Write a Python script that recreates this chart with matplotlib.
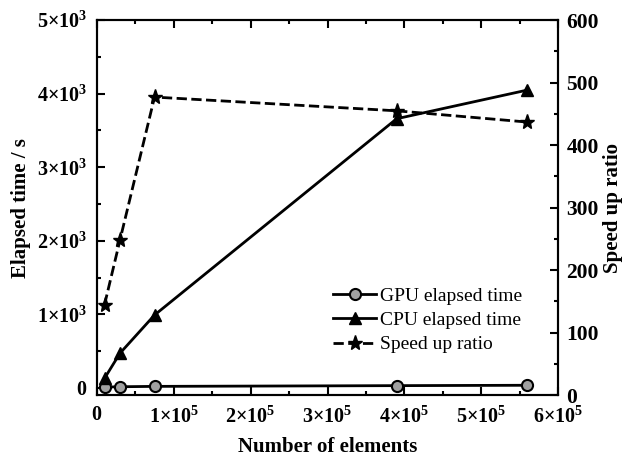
import matplotlib
matplotlib.use("Agg")
import matplotlib.pyplot as plt
import matplotlib.ticker as ticker

# Daten
n_elemente = [1.0e4, 3.0e4, 7.5e4, 3.9e5, 5.6e5]
gpu_zeit   = [10, 15, 20, 30, 35]
cpu_zeit   = [130, 470, 990, 3660, 4050]
speedup    = [145, 248, 477, 455, 437]

plt.rcParams["font.family"] = ["Liberation Serif", "DejaVu Serif"]
plt.rcParams["mathtext.fontset"] = "custom"
plt.rcParams["mathtext.rm"] = "Liberation Serif"
plt.rcParams["mathtext.bf"] = "Liberation Serif:bold"

def sci_fmt(wert, pos):
    if wert == 0:
        return r"$\mathbf{0}$"
    exp = len(str(int(wert))) - 1
    mant = int(round(wert / 10**exp))
    return r"$\mathbf{%d{\times}10^{%d}}$" % (mant, exp)

fig = plt.figure(figsize=(6.25, 4.59), dpi=100)
ax = fig.add_axes([0.155, 0.139, 0.738, 0.817])
ax2 = ax.twinx()

l1, = ax.plot(n_elemente, gpu_zeit, color="black", linewidth=2, marker="o",
              markersize=8, markerfacecolor="#a0a0a0", markeredgecolor="black",
              markeredgewidth=1.5, label="GPU elapsed time")
l2, = ax.plot(n_elemente, cpu_zeit, color="black", linewidth=2, marker="^",
              markersize=9, label="CPU elapsed time")
l3, = ax2.plot(n_elemente, speedup, color="black", linewidth=2, linestyle="--",
               marker="*", markersize=11, label="Speed up ratio")

ax.set_xlim(0, 6e5)
ax.set_ylim(-100, 5000)
ax2.set_ylim(0, 600)

ax.xaxis.set_major_locator(ticker.MultipleLocator(1e5))
ax.xaxis.set_minor_locator(ticker.MultipleLocator(5e4))
ax.yaxis.set_major_locator(ticker.MultipleLocator(1000))
ax.yaxis.set_minor_locator(ticker.MultipleLocator(500))
ax2.yaxis.set_major_locator(ticker.MultipleLocator(100))
ax2.yaxis.set_minor_locator(ticker.MultipleLocator(50))
ax.xaxis.set_major_formatter(ticker.FuncFormatter(sci_fmt))
ax.yaxis.set_major_formatter(ticker.FuncFormatter(sci_fmt))

ax.tick_params(axis="x", which="both", direction="in", top=True)
ax.tick_params(axis="y", which="both", direction="in", right=False)
ax.tick_params(which="major", length=6, width=1.5, labelsize=14.5)
ax.tick_params(axis="y", which="major", pad=7)
ax.tick_params(axis="x", which="major", pad=8)
ax.tick_params(which="minor", length=3, width=1.5)
ax2.tick_params(which="major", direction="in", length=6, width=1.5,
                labelsize=15.5, pad=6)
ax2.tick_params(which="minor", direction="in", length=3, width=1.5)
for t in ax2.get_yticklabels():
    t.set_fontweight("bold")

for a in (ax, ax2):
    for s in a.spines.values():
        s.set_linewidth(1.5)

ax.set_xlabel("Number of elements", fontsize=15, fontweight="bold", labelpad=7)
ax.set_ylabel("Elapsed time / s", fontsize=15, fontweight="bold", labelpad=4)
ax2.set_ylabel("Speed up ratio", fontsize=15, fontweight="bold", labelpad=3)

ax.legend(handles=[l1, l2, l3], loc="lower right", bbox_to_anchor=(0.96, 0.065),
          frameon=False, fontsize=14, handlelength=2.2, handletextpad=0.2,
          labelspacing=0.33)

plt.savefig("out.png", dpi=100)
